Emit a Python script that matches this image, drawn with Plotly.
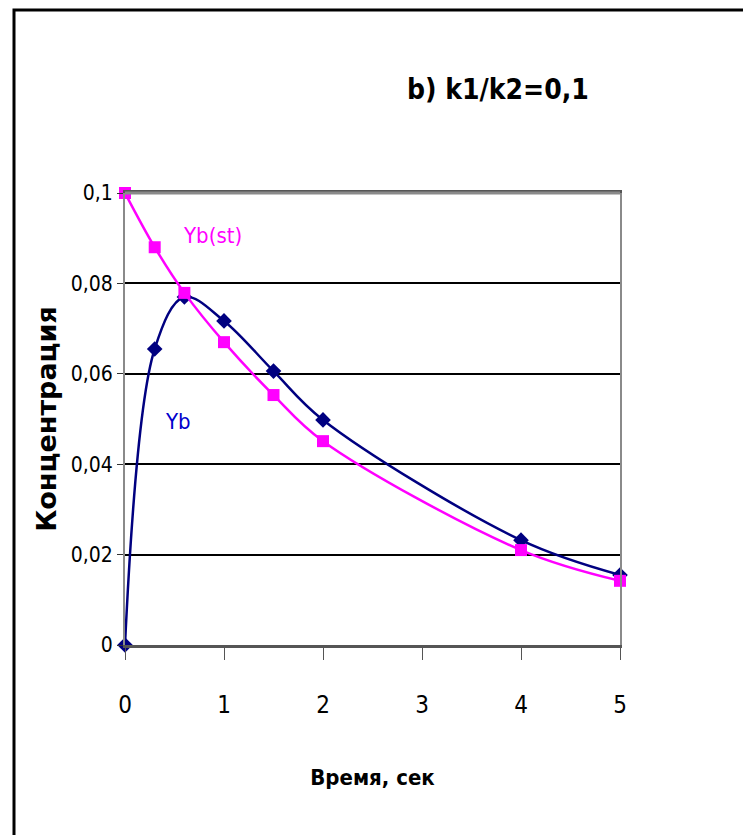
import plotly.graph_objects as go

# Data
time_s = [0, 0.3, 0.6, 1.0, 1.5, 2.0, 4.0, 5.0]
yb = [0.0, 0.0655, 0.0770, 0.0717, 0.0606, 0.0498, 0.0232, 0.0155]
yb_st = [0.100, 0.0880, 0.0779, 0.0670, 0.0553, 0.0451, 0.0210, 0.0142]
x_ticks = [0, 1, 2, 3, 4, 5]
y_ticks = [0, 0.02, 0.04, 0.06, 0.08, 0.1]
y_tick_text = ["0", "0,02", "0,04", "0,06", "0,08", "0,1"]

NARROW = "Liberation Sans Narrow, DejaVu Sans Condensed, Arial Narrow, Arial, sans-serif"

W, H = 746, 838
L, R, T, B = 125, 126, 193, 193
pw, ph = W - L - R, H - T - B

def px(x):
    return (x - L) / pw

def py(y):
    return (H - B - y) / ph

fig = go.Figure()
fig.add_trace(go.Scatter(
    x=time_s, y=yb, mode="lines+markers", name="Yb",
    line=dict(color="#000080", width=2.5, shape="spline", smoothing=1),
    marker=dict(symbol="diamond", size=12, color="#000080"),
    cliponaxis=False,
))
fig.add_trace(go.Scatter(
    x=time_s, y=yb_st, mode="lines+markers", name="Yb(st)",
    line=dict(color="#FF00FF", width=2.5, shape="spline", smoothing=1),
    marker=dict(symbol="square", size=12, color="#FF00FF"),
    cliponaxis=False,
))

fig.update_layout(
    width=W, height=H,
    margin=dict(l=L, r=R, t=T, b=B),
    paper_bgcolor="white", plot_bgcolor="white",
    showlegend=False,
    separators=", ",
    font=dict(family=NARROW, color="black"),
    xaxis=dict(
        range=[0, 5], tickvals=x_ticks, ticks="outside", ticklen=12,
        tickcolor="#555555", tickwidth=1,
        showgrid=False, zeroline=False,
        showline=True, linecolor="#555555", linewidth=3, mirror=True,
        tickfont=dict(size=24, family=NARROW, color="black"),
        ticklabelstandoff=24,
        title=dict(text="<b>Время, сек</b>", font=dict(size=22, family=NARROW), standoff=52),
    ),
    yaxis=dict(
        range=[0, 0.1], tickvals=y_ticks, ticktext=y_tick_text,
        ticks="outside", ticklen=6, tickcolor="#333333",
        showgrid=True, gridcolor="black", gridwidth=1.5,
        zeroline=False,
        showline=True, linecolor="#8a8a8a", linewidth=2, mirror=True,
        tickfont=dict(size=21, family=NARROW, color="black"),
        title=dict(text="<b>Концентрация</b>",
                   font=dict(size=27, family="DejaVu Sans, Arial, sans-serif"), standoff=6),
    ),
)

# top frame line at 0.1 in gray (thicker)
fig.add_shape(type="line", xref="paper", yref="paper", x0=0, x1=1, y0=1, y1=1,
              line=dict(color="#8a8a8a", width=3))

# outer black frame (only left and top edges visible in the reference),
# kept strictly inside the figure so that the page does not overflow
frame_path = "M {:.5f},{:.5f} L {:.5f},{:.5f} L {:.5f},{:.5f}".format(
    px(14), py(H - 3), px(14), py(10), px(W - 3), py(10))
fig.add_shape(type="path", xref="paper", yref="paper", path=frame_path,
              line=dict(color="black", width=3), layer="above")

# title
fig.add_annotation(text="<b>b) k1/k2=0,1</b>", xref="paper", yref="paper",
                   x=px(498), y=py(90), xanchor="center", yanchor="middle",
                   showarrow=False,
                   font=dict(size=28, family=NARROW, color="black"))

# series labels
fig.add_annotation(text="Yb(st)", x=0.88, y=0.0905, xanchor="center", showarrow=False,
                   font=dict(size=22, family=NARROW, color="#FF00FF"))
fig.add_annotation(text="Yb", x=0.54, y=0.0495, xanchor="center", showarrow=False,
                   font=dict(size=22, family=NARROW, color="#0000CC"))

fig.write_html("out.html")
